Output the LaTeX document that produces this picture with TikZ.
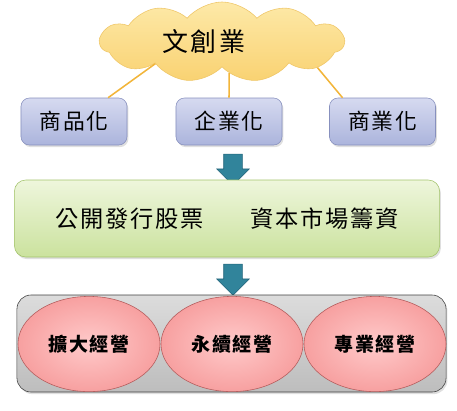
\documentclass[tikz,border=0pt]{standalone}
\usepackage{fontspec}
\newfontfamily\cjk[LetterSpace=8]{Noto Sans CJK TC}
\usetikzlibrary{shapes.symbols,shapes.arrows,shapes.geometric,shadows,calc}
\definecolor{cloudtop}{HTML}{FDE9A8}
\definecolor{cloudbot}{HTML}{F9D272}
\definecolor{cloudline}{HTML}{EFC667}
\definecolor{linkcol}{HTML}{F2B53A}
\definecolor{boxtop}{HTML}{D6DAF0}
\definecolor{boxbot}{HTML}{ABB4DC}
\definecolor{boxline}{HTML}{8790BE}
\definecolor{greentop}{HTML}{EEF6DC}
\definecolor{greenbot}{HTML}{CBE29E}
\definecolor{greenline}{HTML}{A3C36B}
\definecolor{arrowfill}{HTML}{31849B}
\definecolor{arrowline}{HTML}{25657A}
\definecolor{graytop}{HTML}{DCDCDC}
\definecolor{graybot}{HTML}{BDBDBD}
\definecolor{pinkin}{HTML}{FFCACA}
\definecolor{pinkout}{HTML}{F7A0A0}
\definecolor{pinkline}{HTML}{B35A5A}
\begin{document}
\begin{tikzpicture}[x=0.025cm, y=-0.025cm,
  cloudbox/.style={cloud, cloud puffs=11, cloud puff arc=100, cloud ignores aspect, draw=cloudline, top color=cloudtop, bottom color=cloudbot, minimum width=6.1cm, minimum height=2cm},
  link/.style={linkcol, line width=1.1pt},
  stagebox/.style={rectangle, rounded corners=6pt, draw=boxline, top color=boxtop, bottom color=boxbot, minimum width=2.65cm, minimum height=1.175cm, font=\cjk\fontsize{15.5}{18}\selectfont, drop shadow={opacity=0.25, shadow xshift=1pt, shadow yshift=-1.5pt}},
  ipobox/.style={rectangle, rounded corners=8pt, draw=greenline, top color=greentop, bottom color=greenbot, minimum width=10.625cm, minimum height=1.925cm, font=\cjk\fontsize{16.5}{19}\selectfont, drop shadow={opacity=0.25, shadow xshift=1pt, shadow yshift=-1.5pt}},
  downarrow/.style={single arrow, rotate=-90, draw=arrowline, fill=arrowfill, inner xsep=0pt, inner ysep=0.225cm, minimum height=0.78cm, single arrow head extend=0.175cm},
  basebox/.style={rectangle, rounded corners=10pt, draw=black!75, top color=graytop, bottom color=graybot, minimum width=10.725cm, minimum height=2.425cm, drop shadow={opacity=0.25, shadow xshift=1pt, shadow yshift=-1.5pt}},
  goalell/.style={ellipse, draw=pinkline, inner color=pinkin, outer color=pinkout, minimum width=3.55cm, minimum height=2.38cm, font=\cjk\bfseries\fontsize{13.5}{16}\selectfont},
]
  \useasboundingbox (0,0) rectangle (457,410);

  % top: cloud and the three stages
  \node[cloudbox] (cl) at (222,42) {};
  \node[font=\cjk\fontsize{18.5}{22}\selectfont] (cltext) at (204,42) {文創業};
  \node[stagebox] (b1) at (74,121.5) {商品化};
  \node[stagebox] (b2) at (229,121.5) {企業化};
  \node[stagebox] (b3) at (382.5,121.5) {商業化};

  \draw[link] (cl.198) -- ($(b1.north)!0.64!(b1.north east)$);
  \draw[link] (cl.283) -- (b2.north);
  \draw[link] (cl.345) -- ($(b3.north)!0.75!(b3.north west)$);

  % middle: listing
  \node[downarrow] (a1) at (233,165) {};
  \node[ipobox] (ipo) at (227,218.5) {公開發行股票\hspace{2em}資本市場籌資};
  \node[downarrow] (a2) at (233,275) {};

  % bottom: three goals
  \node[basebox] (base) at (231.5,343.5) {};
  \node[goalell] (g1) at (89,344) {擴大經營};
  \node[goalell] (g2) at (232,344) {永續經營};
  \node[goalell] (g3) at (375,344) {專業經營};
\end{tikzpicture}
\end{document}
